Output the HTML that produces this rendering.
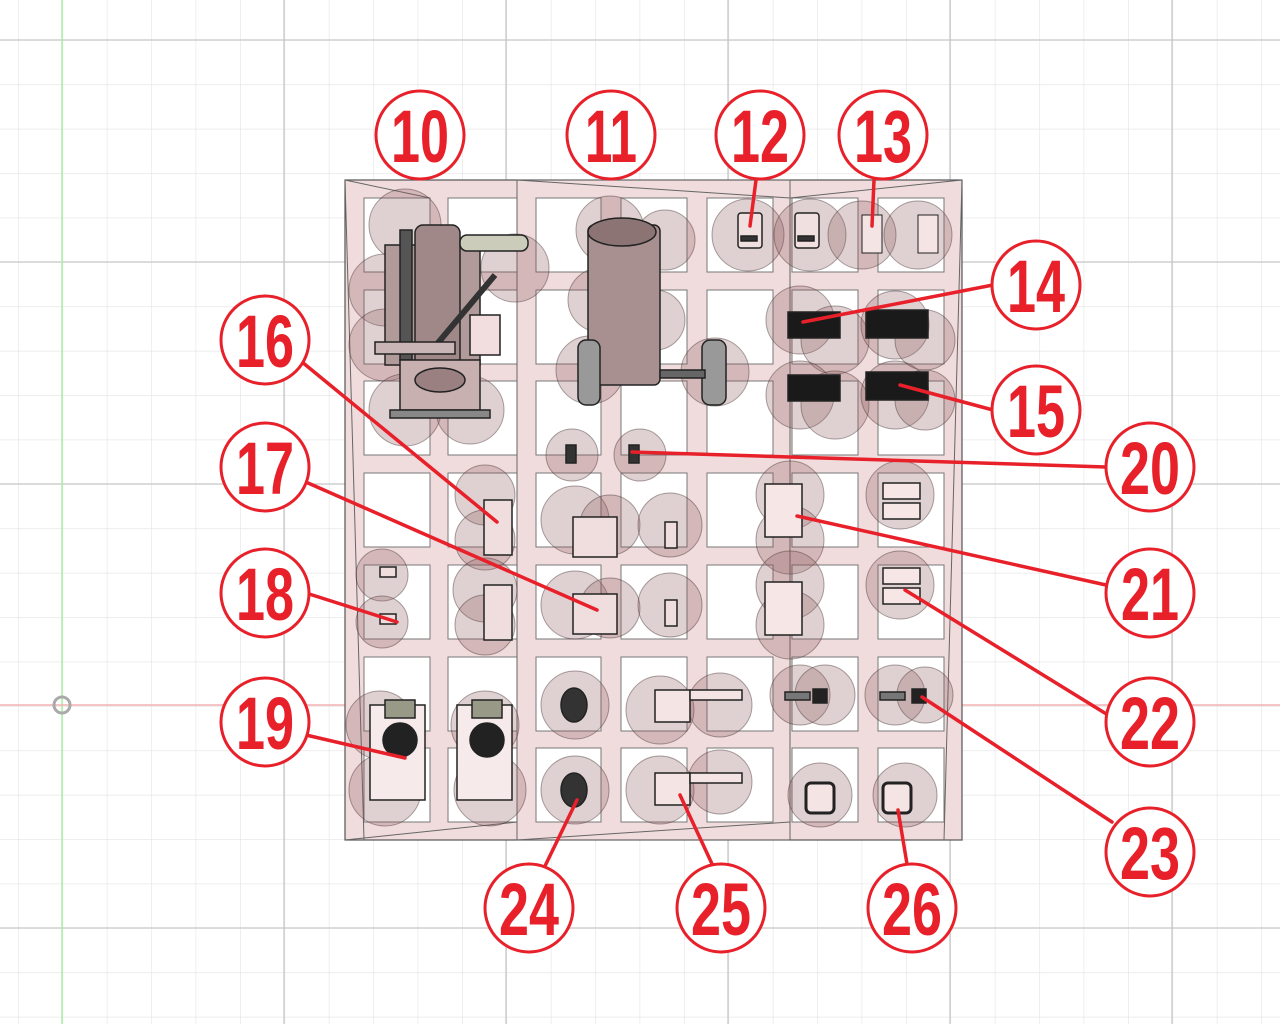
<!DOCTYPE html>
<html><head><meta charset="utf-8"><style>html,body{margin:0;padding:0;background:#fff}svg{display:block}</style></head>
<body>
<svg width="1280" height="1024" viewBox="0 0 1280 1024" xmlns="http://www.w3.org/2000/svg">
<defs>
<pattern id="g" x="18" y="40" width="44.4" height="44.4" patternUnits="userSpaceOnUse">
<path d="M0 0H44.4M0 0V44.4" stroke="#e2e2e2" stroke-width="1.2" fill="none"/>
</pattern>
</defs>
<rect width="1280" height="1024" fill="#fff"/>
<rect width="1280" height="1024" fill="url(#g)"/>
<g stroke="#c8c8c8" stroke-width="1.3">
<line x1="284" y1="0" x2="284" y2="1024"/><line x1="506" y1="0" x2="506" y2="1024"/><line x1="728" y1="0" x2="728" y2="1024"/><line x1="950" y1="0" x2="950" y2="1024"/><line x1="1172" y1="0" x2="1172" y2="1024"/>
<line x1="0" y1="40" x2="1280" y2="40"/><line x1="0" y1="262" x2="1280" y2="262"/><line x1="0" y1="484" x2="1280" y2="484"/><line x1="0" y1="928" x2="1280" y2="928"/>
</g>
<line x1="62" y1="0" x2="62" y2="1024" stroke="#a8f0a0" stroke-width="1.5"/>
<line x1="0" y1="705" x2="1280" y2="705" stroke="#f3b0b0" stroke-width="1.5"/>
<circle cx="62" cy="705" r="8" fill="none" stroke="#aaa" stroke-width="3"/>

<!-- frame -->
<rect x="345" y="180" width="617" height="660" fill="#f0dcdc" stroke="#555" stroke-width="1.2"/>
<g fill="#fff" stroke="#777" stroke-width="1">
<!-- rows -->
<g id="r1">
<rect x="364" y="198" width="66" height="74"/><rect x="448" y="198" width="69" height="74"/><rect x="536" y="198" width="65" height="74"/><rect x="621" y="198" width="66" height="74"/><rect x="707" y="198" width="66" height="74"/><rect x="792" y="198" width="66" height="74"/><rect x="878" y="198" width="66" height="74"/>
</g>
<g transform="translate(0,92)"><rect x="364" y="198" width="66" height="74"/><rect x="448" y="198" width="69" height="74"/><rect x="536" y="198" width="65" height="74"/><rect x="621" y="198" width="66" height="74"/><rect x="707" y="198" width="66" height="74"/><rect x="792" y="198" width="66" height="74"/><rect x="878" y="198" width="66" height="74"/></g>
<g transform="translate(0,183)"><rect x="364" y="198" width="66" height="74"/><rect x="448" y="198" width="69" height="74"/><rect x="536" y="198" width="65" height="74"/><rect x="621" y="198" width="66" height="74"/><rect x="707" y="198" width="66" height="74"/><rect x="792" y="198" width="66" height="74"/><rect x="878" y="198" width="66" height="74"/></g>
<g transform="translate(0,275)"><rect x="364" y="198" width="66" height="74"/><rect x="448" y="198" width="69" height="74"/><rect x="536" y="198" width="65" height="74"/><rect x="621" y="198" width="66" height="74"/><rect x="707" y="198" width="66" height="74"/><rect x="792" y="198" width="66" height="74"/><rect x="878" y="198" width="66" height="74"/></g>
<g transform="translate(0,367)"><rect x="364" y="198" width="66" height="74"/><rect x="448" y="198" width="69" height="74"/><rect x="536" y="198" width="65" height="74"/><rect x="621" y="198" width="66" height="74"/><rect x="707" y="198" width="66" height="74"/><rect x="792" y="198" width="66" height="74"/><rect x="878" y="198" width="66" height="74"/></g>
<g transform="translate(0,459)"><rect x="364" y="198" width="66" height="74"/><rect x="448" y="198" width="69" height="74"/><rect x="536" y="198" width="65" height="74"/><rect x="621" y="198" width="66" height="74"/><rect x="707" y="198" width="66" height="74"/><rect x="792" y="198" width="66" height="74"/><rect x="878" y="198" width="66" height="74"/></g>
<g transform="translate(0,550)"><rect x="364" y="198" width="66" height="74"/><rect x="448" y="198" width="69" height="74"/><rect x="536" y="198" width="65" height="74"/><rect x="621" y="198" width="66" height="74"/><rect x="707" y="198" width="66" height="74"/><rect x="792" y="198" width="66" height="74"/><rect x="878" y="198" width="66" height="74"/></g>
</g>
<g stroke="#666" stroke-width="1" fill="none">
<rect x="517" y="180" width="273" height="660"/>
<line x1="345" y1="180" x2="430" y2="198"/><line x1="345" y1="180" x2="364" y2="840"/><line x1="517" y1="180" x2="790" y2="198"/><line x1="962" y1="180" x2="790" y2="198"/><line x1="962" y1="180" x2="944" y2="840"/><line x1="517" y1="840" x2="790" y2="822"/><line x1="345" y1="840" x2="517" y2="822"/>
</g>

<!-- blobs -->
<g fill="rgba(140,90,95,0.28)" stroke="rgba(70,50,50,0.45)" stroke-width="1">
<circle cx="405" cy="225" r="36"/><circle cx="385" cy="290" r="36"/><circle cx="385" cy="345" r="36"/><circle cx="405" cy="410" r="36"/><circle cx="470" cy="410" r="34"/><circle cx="515" cy="268" r="34"/>
<circle cx="610" cy="230" r="34"/><circle cx="665" cy="240" r="30"/><circle cx="600" cy="300" r="32"/><circle cx="590" cy="370" r="34"/><circle cx="715" cy="372" r="34"/><circle cx="655" cy="320" r="30"/>
<circle cx="748" cy="235" r="36"/><circle cx="810" cy="235" r="36"/><circle cx="862" cy="235" r="34"/><circle cx="918" cy="235" r="34"/>
<circle cx="800" cy="320" r="34"/><circle cx="835" cy="340" r="34"/><circle cx="895" cy="325" r="34"/><circle cx="925" cy="340" r="30"/>
<circle cx="800" cy="395" r="34"/><circle cx="835" cy="405" r="34"/><circle cx="895" cy="395" r="34"/><circle cx="925" cy="400" r="30"/>
<circle cx="572" cy="455" r="26"/><circle cx="640" cy="455" r="26"/>
<circle cx="485" cy="495" r="30"/><circle cx="485" cy="540" r="30"/><circle cx="575" cy="520" r="34"/><circle cx="610" cy="525" r="30"/><circle cx="670" cy="525" r="32"/>
<circle cx="790" cy="495" r="34"/><circle cx="790" cy="540" r="34"/><circle cx="900" cy="495" r="34"/>
<circle cx="382" cy="575" r="26"/><circle cx="382" cy="622" r="26"/><circle cx="485" cy="590" r="32"/><circle cx="485" cy="625" r="30"/><circle cx="575" cy="605" r="34"/><circle cx="610" cy="608" r="30"/><circle cx="670" cy="605" r="32"/>
<circle cx="790" cy="585" r="34"/><circle cx="790" cy="625" r="34"/><circle cx="900" cy="585" r="34"/>
<circle cx="380" cy="725" r="34"/><circle cx="385" cy="790" r="36"/><circle cx="485" cy="725" r="34"/><circle cx="490" cy="790" r="36"/>
<circle cx="575" cy="705" r="34"/><circle cx="660" cy="710" r="34"/><circle cx="720" cy="705" r="32"/><circle cx="800" cy="695" r="30"/><circle cx="825" cy="695" r="30"/><circle cx="895" cy="695" r="30"/><circle cx="925" cy="695" r="28"/>
<circle cx="575" cy="790" r="34"/><circle cx="660" cy="790" r="34"/><circle cx="720" cy="782" r="32"/><circle cx="820" cy="795" r="32"/><circle cx="905" cy="795" r="32"/>
</g>

<!-- components -->
<g stroke="#222" stroke-width="1.5">
<!-- 10 engine -->
<rect x="385" y="245" width="95" height="120" fill="#b09a9a"/>
<rect x="415" y="225" width="45" height="150" rx="8" fill="#a08888"/>
<rect x="400" y="230" width="12" height="130" fill="#555"/>
<rect x="460" y="235" width="68" height="16" rx="7" fill="#ccb"/>
<line x1="432" y1="350" x2="495" y2="275" stroke="#333" stroke-width="6"/>
<rect x="470" y="315" width="30" height="40" fill="#f2dede"/>
<rect x="375" y="342" width="80" height="12" fill="#c9b5b5"/>
<rect x="400" y="360" width="80" height="50" fill="#c8b0b0"/>
<ellipse cx="440" cy="380" rx="25" ry="12" fill="#9a8080"/>
<rect x="390" y="410" width="100" height="8" fill="#888"/>
<!-- 11 engine -->
<rect x="588" y="225" width="72" height="160" rx="6" fill="#a89090"/>
<ellipse cx="622" cy="232" rx="34" ry="14" fill="#8c7474"/>
<rect x="578" y="340" width="22" height="65" rx="8" fill="#999"/>
<rect x="702" y="340" width="24" height="65" rx="8" fill="#999"/>
<rect x="660" y="370" width="45" height="8" fill="#666"/>
<!-- 12/13 -->
<rect x="738" y="213" width="24" height="35" rx="3" fill="#f0e0e0"/><rect x="741" y="236" width="16" height="5" fill="#333"/>
<rect x="795" y="213" width="24" height="35" rx="3" fill="#f0e0e0"/><rect x="798" y="236" width="16" height="5" fill="#333"/>
<rect x="862" y="215" width="20" height="38" fill="#f4e4e4" stroke-width="1"/><rect x="918" y="215" width="20" height="38" fill="#f4e4e4" stroke-width="1"/>
<!-- 14/15 -->
<g fill="#1a1a1a"><rect x="788" y="312" width="52" height="26"/><rect x="866" y="310" width="62" height="28"/><rect x="788" y="375" width="52" height="26"/><rect x="866" y="372" width="62" height="28"/></g>
<!-- 20 -->
<rect x="566" y="445" width="10" height="18" fill="#333"/><rect x="629" y="445" width="10" height="18" fill="#333"/>
<!-- 16 -->
<rect x="484" y="500" width="28" height="55" fill="#f0dede"/><rect x="484" y="585" width="28" height="55" fill="#f0dede"/>
<!-- 17 -->
<rect x="573" y="517" width="44" height="40" fill="#f0dede"/><rect x="573" y="594" width="44" height="40" fill="#f0dede"/>
<rect x="665" y="522" width="12" height="26" fill="#f0dede"/><rect x="665" y="600" width="12" height="26" fill="#f0dede"/>
<!-- 18 -->
<rect x="380" y="567" width="16" height="10" fill="#f0dede"/><rect x="380" y="614" width="16" height="10" fill="#f0dede"/>
<!-- 21 -->
<rect x="765" y="484" width="37" height="53" fill="#f6e6e6"/><rect x="765" y="582" width="37" height="53" fill="#f6e6e6"/>
<!-- 22 -->
<rect x="883" y="483" width="37" height="16" fill="#f6e6e6"/><rect x="883" y="503" width="37" height="16" fill="#f6e6e6"/>
<rect x="883" y="568" width="37" height="16" fill="#f6e6e6"/><rect x="883" y="588" width="37" height="16" fill="#f6e6e6"/>
<!-- 19 -->
<rect x="370" y="705" width="55" height="95" fill="#f6eaea"/><rect x="457" y="705" width="55" height="95" fill="#f6eaea"/>
<circle cx="400" cy="740" r="17" fill="#222"/><circle cx="487" cy="740" r="17" fill="#222"/>
<rect x="385" y="700" width="30" height="18" fill="#998" /><rect x="472" y="700" width="30" height="18" fill="#998"/>
<!-- 24 -->
<ellipse cx="574" cy="705" rx="13" ry="17" fill="#333"/><ellipse cx="574" cy="790" rx="13" ry="17" fill="#333"/>
<!-- 25 -->
<rect x="655" y="690" width="35" height="32" fill="#f4e4e4"/><rect x="690" y="690" width="52" height="10" fill="#f4e4e4"/>
<rect x="655" y="773" width="35" height="32" fill="#f4e4e4"/><rect x="690" y="773" width="52" height="10" fill="#f4e4e4"/>
<!-- 23 -->
<rect x="785" y="692" width="25" height="8" fill="#777"/><rect x="813" y="689" width="14" height="14" fill="#222"/>
<rect x="880" y="692" width="25" height="8" fill="#777"/><rect x="912" y="689" width="14" height="14" fill="#222"/>
<!-- 26 -->
<rect x="806" y="783" width="28" height="30" rx="5" fill="#f4e4e4" stroke-width="3"/><rect x="883" y="783" width="28" height="30" rx="5" fill="#f4e4e4" stroke-width="3"/>
</g>

<!-- leaders -->
<g stroke="#e8202a" stroke-width="3.5" fill="none" stroke-linecap="round">
<line x1="756" y1="180" x2="750" y2="226"/><line x1="874" y1="180" x2="872" y2="226"/>
<line x1="993" y1="285" x2="803" y2="322"/><line x1="993" y1="410" x2="900" y2="385"/>
<line x1="302" y1="362" x2="497" y2="522"/><line x1="308" y1="483" x2="597" y2="610"/>
<line x1="306" y1="593" x2="397" y2="622"/><line x1="306" y1="735" x2="405" y2="758"/>
<line x1="1106" y1="467" x2="632" y2="452"/><line x1="1106" y1="585" x2="797" y2="516"/>
<line x1="1108" y1="715" x2="905" y2="590"/><line x1="1112" y1="822" x2="922" y2="697"/>
<line x1="545" y1="866" x2="577" y2="800"/><line x1="713" y1="866" x2="680" y2="795"/><line x1="907" y1="864" x2="898" y2="810"/>
</g>
<g fill="#fff" stroke="#e8202a" stroke-width="3">
<circle cx="420" cy="135" r="44"/><circle cx="611" cy="135" r="44"/><circle cx="760" cy="135" r="44"/><circle cx="883" cy="135" r="44"/>
<circle cx="1036" cy="285" r="44"/><circle cx="1036" cy="410" r="44"/>
<circle cx="265" cy="340" r="44"/><circle cx="265" cy="467" r="44"/><circle cx="265" cy="593" r="44"/><circle cx="265" cy="722" r="44"/>
<circle cx="1150" cy="467" r="44"/><circle cx="1150" cy="593" r="44"/><circle cx="1150" cy="722" r="44"/><circle cx="1150" cy="852" r="44"/>
<circle cx="529" cy="908" r="44"/><circle cx="721" cy="908" r="44"/><circle cx="912" cy="908" r="44"/>
</g>
<g fill="#e8202a" font-family="'Liberation Sans Narrow','Liberation Sans',sans-serif" font-weight="bold" font-size="74" text-anchor="middle">
<text x="420" y="162" textLength="58" lengthAdjust="spacingAndGlyphs">10</text>
<text x="611" y="162" textLength="52" lengthAdjust="spacingAndGlyphs">11</text>
<text x="760" y="162" textLength="58" lengthAdjust="spacingAndGlyphs">12</text>
<text x="883" y="162" textLength="58" lengthAdjust="spacingAndGlyphs">13</text>
<text x="1036" y="312" textLength="58" lengthAdjust="spacingAndGlyphs">14</text>
<text x="1036" y="437" textLength="58" lengthAdjust="spacingAndGlyphs">15</text>
<text x="265" y="367" textLength="58" lengthAdjust="spacingAndGlyphs">16</text>
<text x="265" y="494" textLength="58" lengthAdjust="spacingAndGlyphs">17</text>
<text x="265" y="620" textLength="58" lengthAdjust="spacingAndGlyphs">18</text>
<text x="265" y="749" textLength="58" lengthAdjust="spacingAndGlyphs">19</text>
<text x="1150" y="494" textLength="60" lengthAdjust="spacingAndGlyphs">20</text>
<text x="1150" y="620" textLength="58" lengthAdjust="spacingAndGlyphs">21</text>
<text x="1150" y="749" textLength="60" lengthAdjust="spacingAndGlyphs">22</text>
<text x="1150" y="879" textLength="60" lengthAdjust="spacingAndGlyphs">23</text>
<text x="529" y="935" textLength="60" lengthAdjust="spacingAndGlyphs">24</text>
<text x="721" y="935" textLength="60" lengthAdjust="spacingAndGlyphs">25</text>
<text x="912" y="935" textLength="60" lengthAdjust="spacingAndGlyphs">26</text>
</g>
</svg>
</body></html>
